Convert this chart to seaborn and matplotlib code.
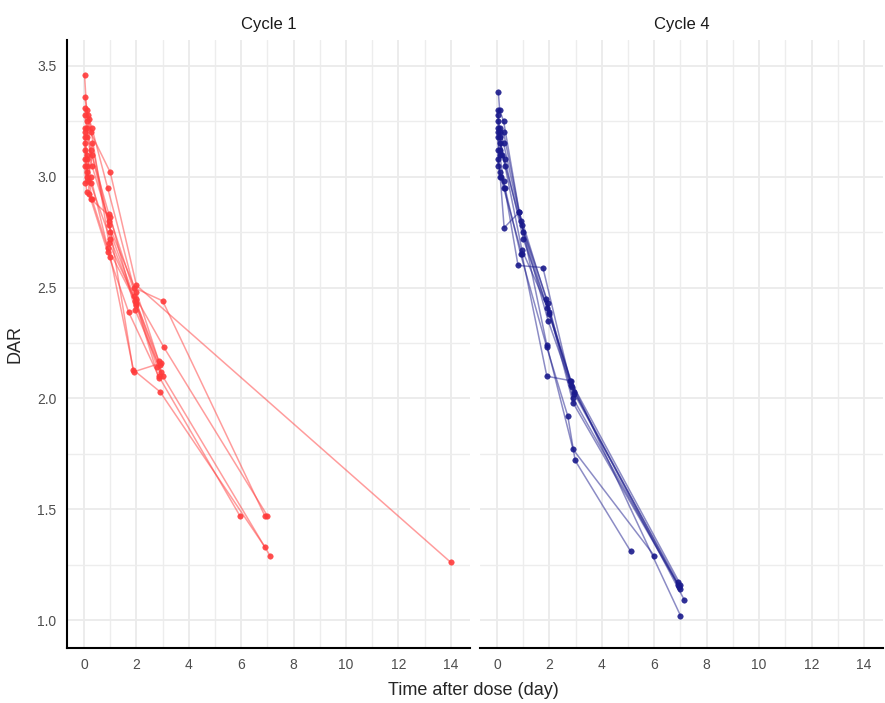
import numpy as np
import pandas as pd
import seaborn as sns
import matplotlib.pyplot as plt
from matplotlib.ticker import MultipleLocator

# Cycle 1: one entry per observation (subject id, time in days, DAR)
c1_subject = [1]*6 + [2]*7 + [3]*7 + [4]*7 + [5]*7 + [6]*7 + [7]*6 + [8]*6 + [9]*6 + [10]*6 + [11]*6 + [12]*6
c1_time = [0.02, 0.10, 0.25, 1.00, 2.00, 14.0,
           0.02, 0.15, 0.30, 0.90, 1.90, 3.00, 6.90,
           0.02, 0.10, 0.25, 0.95, 2.00, 3.05, 7.00,
           0.02, 0.10, 0.30, 0.95, 1.87, 2.90, 6.90,
           0.02, 0.12, 0.25, 0.90, 1.95, 2.80, 7.10,
           0.02, 0.10, 0.20, 0.90, 1.70, 2.85, 5.95,
           0.02, 0.10, 0.30, 1.00, 1.90, 2.95,
           0.02, 0.10, 0.25, 1.00, 2.00, 2.85,
           0.02, 0.15, 0.30, 0.95, 2.00, 2.90,
           0.02, 0.10, 0.25, 1.00, 1.95, 2.95,
           0.02, 0.10, 0.30, 1.00, 2.00, 3.00,
           0.02, 0.10, 0.20, 0.95, 1.90, 2.85]
c1_dar = [3.46, 3.30, 3.20, 3.02, 2.51, 1.26,
          3.36, 3.28, 3.22, 2.95, 2.50, 2.44, 1.47,
          3.31, 3.25, 3.12, 2.83, 2.45, 2.23, 1.47,
          3.28, 3.22, 3.05, 2.80, 2.13, 2.03, 1.33,
          3.20, 3.10, 3.00, 2.68, 2.44, 2.14, 1.29,
          3.18, 3.08, 2.92, 2.66, 2.39, 2.10, 1.47,
          3.15, 3.05, 2.90, 2.64, 2.12, 2.16,
          3.12, 3.02, 2.97, 2.72, 2.42, 2.09,
          3.08, 2.98, 3.10, 2.78, 2.48, 2.15,
          3.05, 2.93, 2.90, 2.82, 2.40, 2.12,
          2.97, 3.00, 3.15, 2.75, 2.43, 2.10,
          3.22, 3.18, 3.26, 2.70, 2.46, 2.17]

# Cycle 4
c4_subject = [1]*7 + [2]*7 + [3]*7 + [4]*7 + [5]*7 + [6]*7 + [7]*8 + [8]*7 + [9]*7 + [10]*6
c4_time = [0.05, 0.10, 0.25, 0.85, 1.87, 2.90, 6.90,
           0.02, 0.10, 0.25, 0.90, 1.90, 2.95, 7.15,
           0.02, 0.10, 0.30, 0.95, 2.00, 2.82, 7.00,
           0.02, 0.10, 0.25, 0.80, 1.75, 2.82, 6.95,
           0.02, 0.12, 0.27, 0.85, 1.90, 2.90, 6.00,
           0.02, 0.10, 0.25, 0.95, 1.90, 2.80, 7.00,
           0.02, 0.15, 0.30, 0.90, 1.90, 2.70, 2.98, 5.10,
           0.02, 0.10, 0.30, 1.00, 2.00, 2.95, 6.90,
           0.02, 0.10, 0.25, 0.95, 1.95, 2.90, 7.00,
           0.02, 0.10, 0.20, 1.00, 1.95, 2.85]
c4_dar = [3.38, 3.30, 3.25, 2.84, 2.45, 1.98, 1.16,
          3.30, 3.22, 3.15, 2.80, 2.41, 2.03, 1.09,
          3.25, 3.18, 3.05, 2.67, 2.39, 2.08, 1.02,
          3.20, 3.10, 2.98, 2.60, 2.59, 2.06, 1.15,
          3.18, 3.00, 2.77, 2.84, 2.24, 1.77, 1.29,
          3.12, 3.02, 2.95, 2.65, 2.10, 2.08, 1.16,
          3.08, 3.00, 2.95, 2.65, 2.23, 1.92, 1.72, 1.31,
          3.22, 3.15, 3.08, 2.72, 2.38, 2.02, 1.17,
          3.05, 3.12, 3.20, 2.78, 2.43, 2.00, 1.14,
          3.28, 3.20, 3.10, 2.75, 2.35, 2.05]

df1 = pd.DataFrame({"subject": c1_subject, "time": c1_time, "dar": c1_dar})
df4 = pd.DataFrame({"subject": c4_subject, "time": c4_time, "dar": c4_dar})

sns.set_style("white")
plt.rcParams['font.family'] = ['Liberation Sans', 'DejaVu Sans']

fig = plt.figure(figsize=(8.85, 7.03), dpi=100)
ax1 = fig.add_axes([0.0757, 0.0782, 0.4554, 0.865])
ax2 = fig.add_axes([0.5424, 0.0782, 0.4554, 0.865], sharey=ax1)

panels = [(ax1, df1, "#FF3B3B", "Cycle 1"), (ax2, df4, "#1A1A8C", "Cycle 4")]
for ax, d, col, title in panels:
    ax.set_axisbelow(True)
    ax.xaxis.set_major_locator(MultipleLocator(2))
    ax.xaxis.set_minor_locator(MultipleLocator(1))
    ax.yaxis.set_major_locator(MultipleLocator(0.5))
    ax.yaxis.set_minor_locator(MultipleLocator(0.25))
    ax.grid(which='major', color='#EBEBEB', linewidth=1.3)
    ax.grid(which='minor', color='#EDEDED', linewidth=1.0)
    sns.lineplot(data=d, x="time", y="dar", units="subject", estimator=None,
                 color=col, alpha=0.5, linewidth=1.1, ax=ax)
    sns.scatterplot(data=d, x="time", y="dar", color=col, s=16,
                    edgecolor=col, linewidth=0.3, alpha=0.9, ax=ax)
    ax.set_xlim(-0.65, 14.73)
    ax.set_ylim(0.874, 3.617)
    ax.set_title(title, fontsize=12, color='#1A1A1A', pad=8)
    ax.set_xlabel("")
    ax.set_ylabel("")
    ax.tick_params(which='major', direction='out', length=4, width=1,
                   color='#333333', labelsize=10, labelcolor='#4D4D4D')
    ax.tick_params(which='minor', length=0)
    for s in ['top', 'right']:
        ax.spines[s].set_visible(False)
    ax.spines['bottom'].set_linewidth(1.5)
    ax.spines['bottom'].set_color('black')
    ax.spines['left'].set_linewidth(1.5)
    ax.spines['left'].set_color('black')

ax2.spines['left'].set_visible(False)
ax2.tick_params(axis='y', which='both', left=False, labelleft=False)

fig.text(0.017, 0.51, "DAR", rotation=90, fontsize=13, va='center', ha='center')
fig.text(0.535, 0.018, "Time after dose (day)", fontsize=13, va='center', ha='center')

fig.savefig("out.png", dpi=100, facecolor='white')
